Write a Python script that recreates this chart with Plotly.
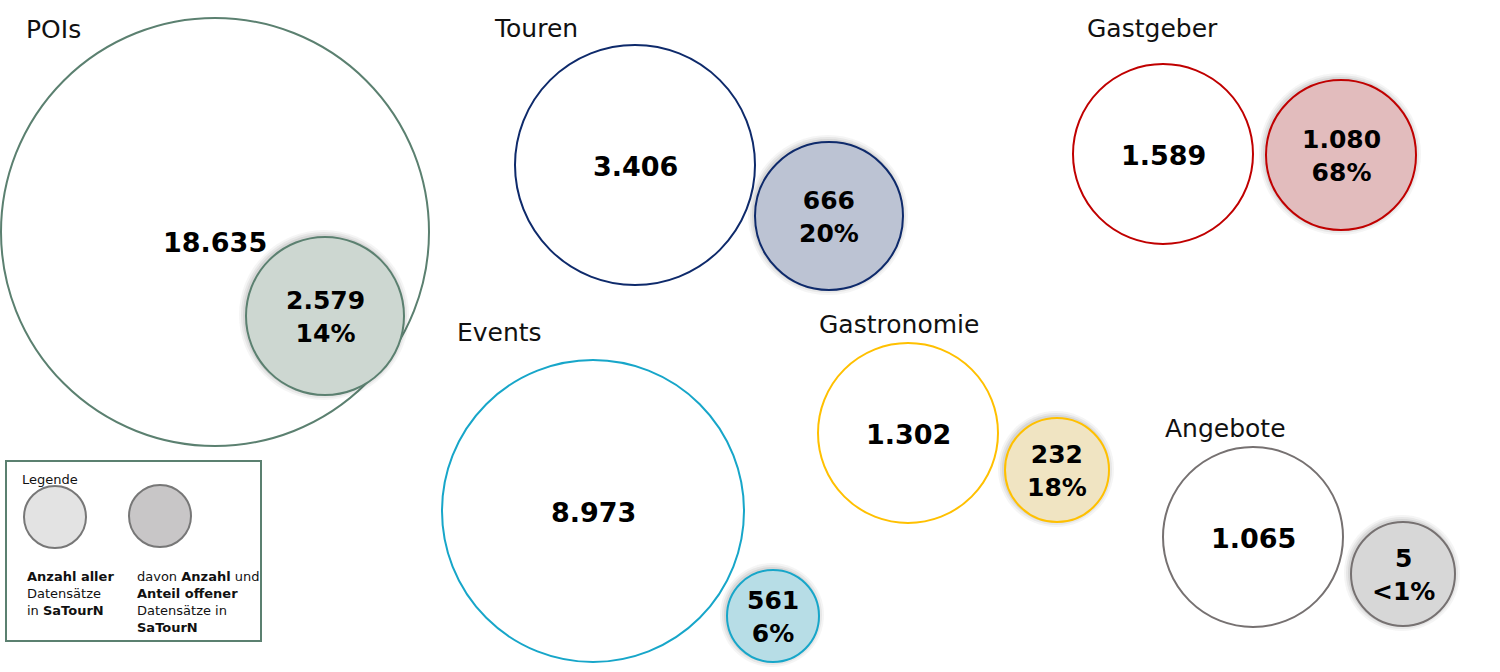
"""Offene Datensätze in SaTourN – Kreisgrafik je Kategorie."""

import plotly.graph_objects as go

# --- data -------------------------------------------------------------
categories = ["POIs", "Touren", "Gastgeber", "Events", "Gastronomie", "Angebote"]
total_records = [18635, 3406, 1589, 8973, 1302, 1065]
open_records = [2579, 666, 1080, 561, 232, 5]

# --- styling / layout (pixel space, y downwards) ------------------------
line_colors = ["#5b8070", "#0e2a6b", "#c00000", "#17a6c9", "#ffc000", "#767171"]
fill_colors = ["#cdd7d1", "#bcc3d3", "#e2bcbd", "#b7dde6", "#f0e4c2", "#d7d7d7"]
big_circles = [(215, 232, 214), (635, 165, 120), (1163, 154, 90),
               (593, 511, 151), (908, 433, 90), (1253, 537, 90)]
small_circles = [(325, 316, 79), (829, 216, 74), (1341, 155, 75),
                 (773, 616, 46), (1057, 470, 52), (1403, 574, 52)]
title_pos = [(24, 29), (492, 28), (1085, 28), (455, 332), (817, 324), (1163, 428)]

FONT = "DejaVu Sans"
W, H = 1500, 672


def de_num(n):
    return f"{n:,}".replace(",", ".")


def pct(part, whole):
    p = part / whole * 100
    return "<1%" if p < 1 else f"{p:.0f}%"


def circle(cx, cy, r, line, fill, width=2, opacity=1.0):
    return dict(type="circle", xref="x", yref="y",
                x0=cx - r, x1=cx + r, y0=cy - r, y1=cy + r,
                line=dict(color=line, width=width),
                fillcolor=fill, opacity=opacity, layer="above")


fig = go.Figure()
shapes, annos = [], []

for i, cat in enumerate(categories):
    bx, by, br = big_circles[i]
    sx, sy, sr = small_circles[i]
    shapes.append(circle(bx, by, br, line_colors[i], "rgba(0,0,0,0)"))
    # soft shadow behind the small circle
    for k, a in [(6, 0.05), (4, 0.07), (2, 0.09)]:
        shapes.append(circle(sx - 1, sy - 1, sr + k, "rgba(0,0,0,0)",
                             f"rgba(60,60,60,{a})", width=0))
    shapes.append(circle(sx, sy, sr, line_colors[i], fill_colors[i]))

    tx, ty = title_pos[i]
    annos.append(dict(x=tx, y=ty, text=cat, showarrow=False,
                      xanchor="left", yanchor="middle",
                      font=dict(family=FONT, size=25, color="#111")))
    annos.append(dict(x=bx if i else 215, y=by + (10 if i == 0 else 1),
                      text=f"<b>{de_num(total_records[i])}</b>",
                      showarrow=False, xanchor="center", yanchor="middle",
                      font=dict(family=FONT, size=27, color="#000")))
    annos.append(dict(x=sx, y=sy + 1,
                      text=f"<b>{de_num(open_records[i])}<br>"
                           f"{pct(open_records[i], total_records[i]).replace('<', '&lt;')}</b>",
                      showarrow=False, xanchor="center", yanchor="middle",
                      font=dict(family=FONT, size=25, color="#000")))

# legend box
shapes.append(dict(type="rect", xref="x", yref="y", x0=6, x1=261, y0=461, y1=641,
                   line=dict(color="#5b8070", width=2), fillcolor="rgba(0,0,0,0)"))
shapes.append(circle(55, 517, 31, "#777777", "#e3e3e3"))
shapes.append(circle(160, 516, 31, "#777777", "#c8c6c7"))
annos.append(dict(x=20, y=479, text="Legende", showarrow=False, xanchor="left",
                  yanchor="middle", font=dict(family=FONT, size=13, color="#111")))
annos.append(dict(x=25, y=567, text="<b>Anzahl aller</b><br>Datensätze<br>in <b>SaTourN</b>",
                  showarrow=False, xanchor="left", yanchor="top", align="left",
                  font=dict(family=FONT, size=13, color="#111")))
annos.append(dict(x=135, y=567,
                  text="davon <b>Anzahl</b> und<br><b>Anteil offener</b><br>Datensätze in<br><b>SaTourN</b>",
                  showarrow=False, xanchor="left", yanchor="top", align="left",
                  font=dict(family=FONT, size=13, color="#111")))

fig.update_layout(
    width=W, height=H,
    margin=dict(l=0, r=0, t=0, b=0),
    paper_bgcolor="white", plot_bgcolor="white",
    xaxis=dict(range=[0, W], visible=False, fixedrange=True),
    yaxis=dict(range=[H, 0], visible=False, fixedrange=True),
    shapes=shapes, annotations=annos, showlegend=False,
)

# drop the default 8px page margin so the figure fills the window exactly
fig.write_html("out.html", config={"displayModeBar": False},
               post_script="document.body.style.margin='0';"
                           "document.body.style.overflow='hidden';")
